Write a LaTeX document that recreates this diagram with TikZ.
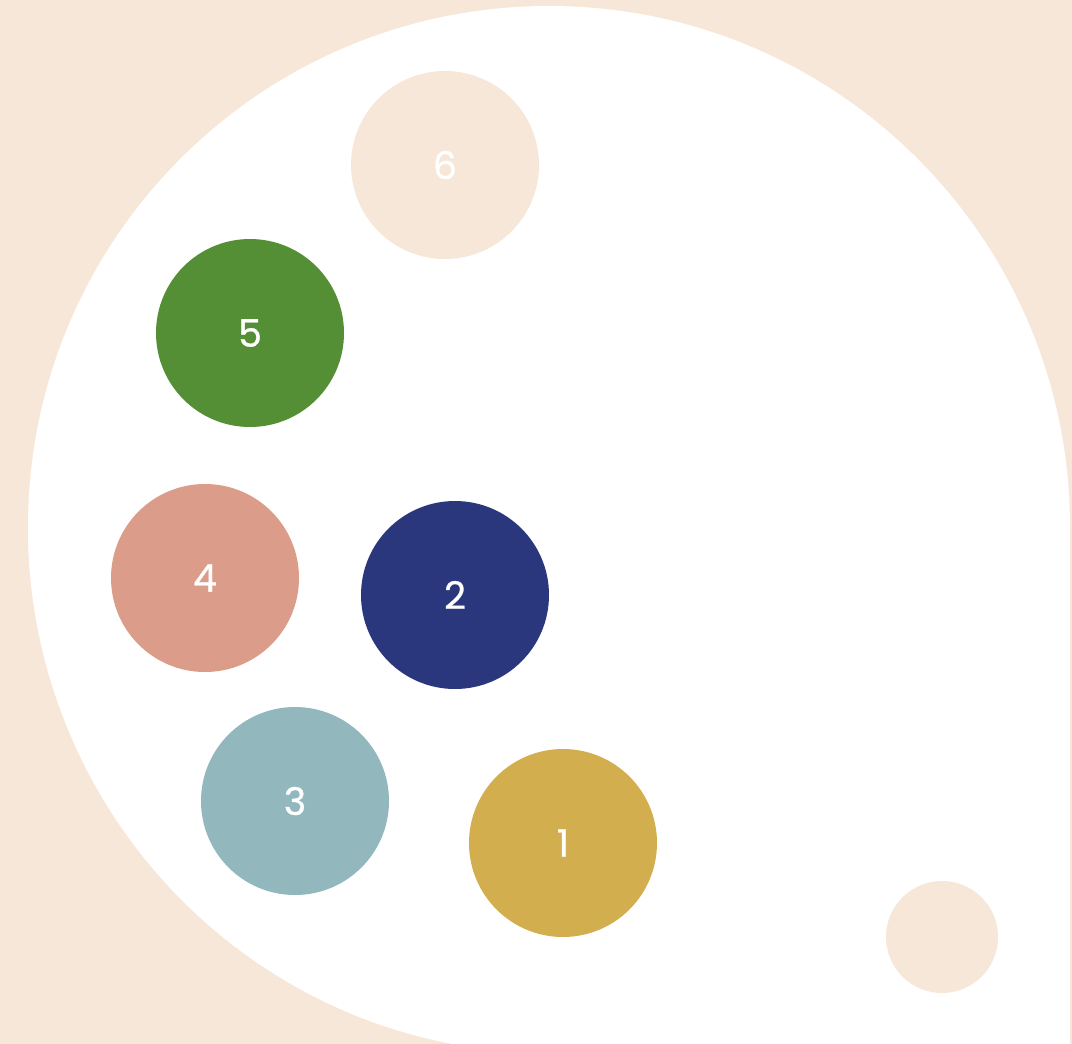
\documentclass[tikz,border=0pt]{standalone}
\usepackage{fontspec}
\newfontfamily\digitfont[FakeBold=0.8]{Poppins}
\definecolor{cSand}{RGB}{247,231,217}
\definecolor{cGold}{RGB}{211,174,78}
\definecolor{cNavy}{RGB}{42,55,124}
\definecolor{cTeal}{RGB}{146,184,190}
\definecolor{cRose}{RGB}{219,156,138}
\definecolor{cLeaf}{RGB}{84,143,53}

\begin{document}
\begin{tikzpicture}[
  x=1pt, y=-1pt,
  ball/.style  = {circle, minimum size=188pt, inner sep=0pt, text=white,
                  font=\digitfont\fontsize{38}{38}\selectfont},
  pebble/.style = {circle, minimum size=112pt, inner sep=0pt, fill=cSand}
]

% ------------------------------------------------------------ il fondo --
\useasboundingbox (0,0) rectangle (1072,1044);
\clip (0,0) rectangle (1072,1044);
\fill[cSand] (0,0) rectangle (1072,1044);

% la lastra bianca: cerchio in alto, angolo retto in basso a destra
\fill[white] (549,527) circle[radius=521];
\fill[white] (549,527) rectangle (1070,1044);
\begin{scope}
  \clip (0,527) rectangle (549,1044);
  \fill[white] (549,527) ellipse[x radius=521, y radius=526];
\end{scope}

% ------------------------------------------------------------ i cerchi --
\node[ball, fill=cSand] (n6) at (445,165) {6};
\node[ball, fill=cLeaf] (n5) at (250,333) {5};
\node[ball, fill=cRose] (n4) at (205,578) {4};
\node[ball, fill=cNavy] (n2) at (455,595) {2};
\node[ball, fill=cTeal] (n3) at (295,801) {3};
\node[ball, fill=cGold] (n1) at (563,843) {1};
\node[pebble]           (nx) at (942,937) {};

\end{tikzpicture}
\end{document}
